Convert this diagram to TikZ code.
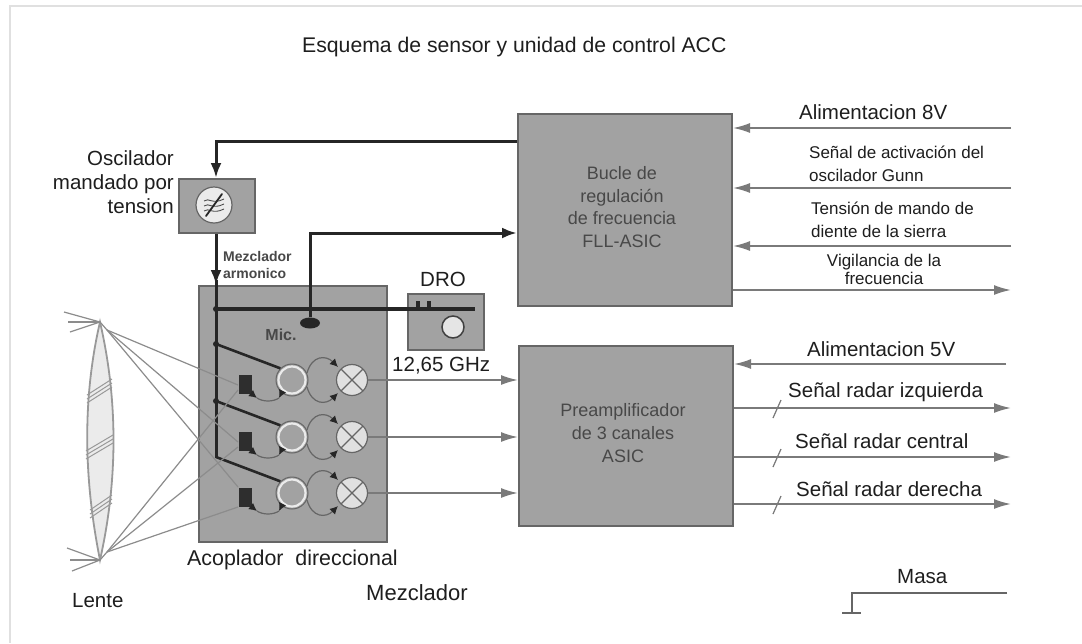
\documentclass[tikz,border=0pt]{standalone}
\usepackage{fontspec}
\setmainfont{Liberation Sans}
\usetikzlibrary{arrows.meta,calc,shapes.geometric}
\definecolor{boxfill}{HTML}{A2A2A2}
\definecolor{boxline}{HTML}{666666}
\definecolor{wire}{HTML}{7A7A7A}
\definecolor{darkw}{HTML}{262626}
\definecolor{innertext}{HTML}{484848}
\definecolor{labeltext}{HTML}{1E1E1E}
\tikzset{
  x=1pt,y=-1pt,
  box/.style={draw=boxline,fill=boxfill,line width=2pt,anchor=north west,inner sep=0pt},
  wirea/.style={draw=wire,line width=1.8pt,-{Latex[length=17pt,width=10pt,color=wire]}},
  wireb/.style={draw=wire,line width=1.8pt},
  power/.style={draw=darkw,line width=3pt},
  powera/.style={power,-{Latex[length=15pt,width=11pt,color=darkw]}},
  ray/.style={draw=black!45,line width=1.2pt},
  sig/.style={font=\fontsize{20.5}{24}\selectfont,text=labeltext,inner sep=0pt,anchor=west},
  sigs/.style={font=\fontsize{17}{23}\selectfont,text=labeltext,inner sep=0pt,anchor=west},
  inside/.style={font=\fontsize{18}{22.7}\selectfont,text=innertext,align=center,inner sep=0pt},
  junction/.style={circle,fill=darkw,inner sep=0pt,minimum size=6pt},
  osc/.style={circle,draw=boxline,line width=1pt,fill=boxfill,minimum size=32pt,inner sep=0pt},
  oscring/.style={circle,draw=white!92!black,line width=2.2pt,minimum size=27pt,inner sep=0pt},
  mixer/.style={circle,draw=boxline,line width=1.2pt,fill=black!12,minimum size=31pt,inner sep=0pt},
  det/.style={fill=black!82,minimum width=13pt,minimum height=19pt,inner sep=0pt,anchor=north west},
  small/.style={-{Latex[length=8pt,width=8pt,color=darkw]},draw=boxline,line width=1.2pt},
}
\begin{document}
\begin{tikzpicture}
\useasboundingbox (0,0) rectangle (1082,643);
\fill[white] (0,0) rectangle (1082,643);
% frame
\draw[black!12,line width=2pt] (10,643) -- (10,6) -- (1082,6);

% boxes
\node[box,minimum width=214pt,minimum height=192pt] (fll) at (517,113) {};
\node[box,minimum width=214pt,minimum height=180pt] (pre) at (518,345) {};
\node[box,minimum width=76pt,minimum height=54pt] (vco) at (178,178) {};
\node[box,minimum width=188pt,minimum height=256pt] (mix) at (198,285) {};
\node[box,minimum width=76pt,minimum height=56pt] (dro) at (407,293) {};

% inside labels
\node[inside] (fllt) at (622,207) {Bucle de\\regulación\\de frecuencia\\FLL-ASIC};
\node[inside] (pret) at (623,433) {Preamplificador\\de 3 canales\\ASIC};

% VCO symbol
\node[circle,draw=boxline,line width=1.2pt,fill=black!8,minimum size=36pt,inner sep=0pt] (vcos) at (214,205) {};
\draw[black!70,line width=.9pt] (204,201) .. controls (209,197) and (212,205) .. (224,199)
  (204,206) .. controls (209,202) and (212,210) .. (224,204)
  (204,211) .. controls (209,207) and (212,215) .. (224,209);
\draw[darkw,line width=1.8pt,line cap=round] (206,216) -- (222,194);

% DRO
\coordinate (hsplit) at (216,309);
\coordinate (hend) at (475,309);
\coordinate (t1) at (418,309);
\coordinate (t2) at (429,309);
\node[circle,draw=black!75,line width=1.5pt,fill=black!10,minimum size=22pt,inner sep=0pt] (dros) at (453,327) {};
\draw[darkw,line width=4pt] (t1) -- ++(0,-8) (t2) -- ++(0,-8);

% channels
\foreach \n/\y in {a/380,b/437,c/493}{
  \node[osc] (o\n) at (292,\y) {};
  \node[oscring] at (o\n) {};
  \node[mixer] (m\n) at (352,\y) {};
  \draw[boxline,line width=1.2pt] ($(m\n)+(-11,-11)$) -- ($(m\n)+(11,11)$) ($(m\n)+(-11,11)$) -- ($(m\n)+(11,-11)$);
  \node[det] (d\n) at (239,\y-5) {};
  \coordinate (j\n) at (216,\y-36);
  \coordinate (s\n) at (257,\y+18);
  \coordinate (r\n) at (279,\y+18);
  \draw[power,line width=2.6pt] (j\n) -- (o\n.north west);
  \draw[small] ($(o\n)+(15,-7)$) .. controls ($(o\n)+(20,-25)$) and ($(m\n)+(-26,-25)$) .. ($(m\n)+(-14,-13)$);
  \draw[small] ($(o\n)+(15,7)$) .. controls ($(o\n)+(20,25)$) and ($(m\n)+(-26,25)$) .. ($(m\n)+(-14,13)$);
  \draw[small] (d\n.south east) -- (s\n);
  \draw[boxline,line width=1.2pt] (s\n) .. controls ($(s\n)+(6,4)$) and ($(r\n)+(-6,4)$) .. (r\n);
  \draw[small] ($(o\n)+(-10,12)$) -- (r\n);
  \draw[wirea] (m\n.east) -- (pre.west |- m\n.east);
}
\node[junction] at (ja) {};
\node[junction] at (jb) {};

% thick wires
\coordinate (vtop) at (216,141);
\coordinate (vbot) at (216,458);
\draw[powera] (fll.west |- vtop) -- (vtop) -- (vco.north -| vtop);
\draw[powera] (vco.south -| vtop) -- (216,285);
\draw[power] (216,280) -- (vbot);
\draw[power,line width=3.5pt] (hsplit) -- (hend);
\node[junction] at (hsplit) {};
\node[ellipse,fill=black!85,minimum width=20pt,minimum height=11pt,inner sep=0pt] (mic) at (310,323) {};
\coordinate (micc) at (310,233);
\draw[powera] (mic) -- (micc) -- (fll.west |- micc);

% lens
\coordinate (lt) at (100,322);
\coordinate (lb) at (100,560);
\filldraw[fill=black!8,draw=black!40,line width=1.8pt] (lt) .. controls (82,400) and (84,480) .. (lb) .. controls (118,480) and (118,400) .. (lt) -- cycle;
\draw[black!40,line width=1pt] (87,395) -- (112,379) (87,399) -- (112,383) (87,403) -- (112,387)
  (86,451) -- (113,435) (86,455) -- (113,439) (86,459) -- (113,443)
  (90,510) -- (112,495) (90,514) -- (112,499) (90,518) -- (112,503);
\foreach \a/\b in {64/312,68/322,70/332}{\draw[ray] (\a,\b) -- (lt);}
\foreach \a/\b in {67/548,70/560,72/571}{\draw[ray] (\a,\b) -- (lb);}
\coordinate (rt) at (107,330);
\coordinate (rb) at (107,552);
\draw[ray] (lt) -- (rt);
\draw[ray] (lb) -- (rb);
\draw[ray] (rt) -- (238,385);
\draw[ray] (rt) -- (238,442);
\draw[ray] (rt) -- (238,487);
\draw[ray] (rb) -- (238,390);
\draw[ray] (rb) -- (238,447);
\draw[ray] (rb) -- (238,507);

% right wires
\foreach \n/\y in {p/128,q/188,r/246}{
  \coordinate (e\n) at (1011,\y);
  \draw[wirea] (e\n) -- (fll.east |- e\n);
}
\coordinate (es) at (1011,290);
\draw[wirea] (fll.east |- es) -- (es);
\coordinate (et) at (1006,364);
\draw[wirea] (et) -- (pre.east |- et);
\foreach \n/\y in {u/408,v/457,w/504}{
  \coordinate (e\n) at (1011,\y);
  \draw[wirea] (pre.east |- e\n) -- (e\n);
  \draw[wireb,line width=1.2pt] (773,\y+10) -- (781,\y-8);
}
% ground
\coordinate (ga) at (1007,593);
\coordinate (gb) at (852,593);
\coordinate (gc) at (852,613);
\draw[wireb,draw=black!60] (ga) -- (gb) -- (gc);
\draw[wireb,draw=black!60,line width=2.2pt] (842,613) -- (861,613);

% texts
\node[sig,font=\fontsize{21.2}{24}\selectfont] (title) at (302,47) {Esquema de sensor y unidad de control ACC};
\node[sig,anchor=east,align=right] (vcot) at (174,182) {Oscilador\\mandado por\\tension};
\node[inside,anchor=west,align=left,font=\bfseries\fontsize{14}{16.5}\selectfont] (mext) at (223,265) {Mezclador\\armonico};
\node[inside,font=\bfseries\fontsize{16}{18}\selectfont] (mict) at (281,335) {Mic.};
\node[sig,anchor=center] (drot) at (443,279) {DRO};
\node[sig] (ghz) at (392,366) {12,65 GHz};
\node[sig,font=\fontsize{21.4}{24}\selectfont] (aco) at (187,560) {Acoplador\ \ direccional};
\node[sig,font=\fontsize{22}{24}\selectfont] (mezt) at (366,593) {Mezclador};
\node[sig] (lent) at (72,601) {Lente};
\node[sig] (al8) at (799,112) {Alimentacion 8V};
\node[sigs,align=left] (act) at (809,163.5) {Señal de activación del\\oscilador Gunn};
\node[sigs,align=left] (ten) at (811,220) {Tensión de mando de\\diente de la sierra};
\node[sigs,align=center,anchor=center,font=\fontsize{17}{18}\selectfont] (vig) at (884,269) {Vigilancia de la\\frecuencia};
\node[sig] (al5) at (807,349) {Alimentacion 5V};
\node[sig] (izq) at (788,392) {Señal radar izquierda};
\node[sig] (cen) at (795,441) {Señal radar central};
\node[sig] (der) at (796,489) {Señal radar derecha};
\node[sig] (masa) at (897,577) {Masa};
\end{tikzpicture}
\end{document}
